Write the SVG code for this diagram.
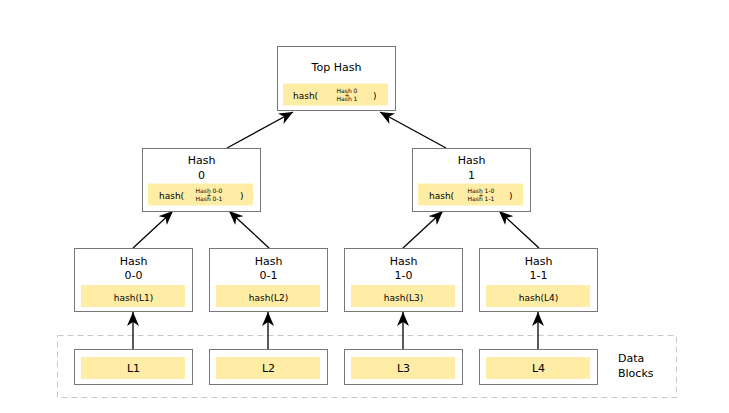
<svg xmlns="http://www.w3.org/2000/svg" width="729" height="413" viewBox="0 0 729 413">
<defs>
<marker id="arr" markerUnits="userSpaceOnUse" markerWidth="14" markerHeight="12" viewBox="0 0 14 12" refX="14" refY="6" orient="auto">
<path d="M0,0 L14,6 L0,12 L4,6 z" fill="#000"/>
</marker>
<style>
.box{fill:#fff;stroke:#777;stroke-width:1}
.hl{fill:#ffeda5}
.t{font-family:"DejaVu Sans",sans-serif;fill:#000}
.big{font-size:11px;text-anchor:middle}
.mid{font-size:9px}
.sm{font-size:6px;text-anchor:middle}
.edge{stroke:#000;stroke-width:1.3;fill:none;marker-end:url(#arr)}
</style>
</defs>
<rect width="729" height="413" fill="#fff"/>
<rect x="57.5" y="335.5" width="619" height="62" fill="none" stroke="#c8c8c8" stroke-width="1" stroke-dasharray="6,4"/>
<g id="connectors">
<line class="edge" x1="227" y1="148" x2="293" y2="112"/>
<line class="edge" x1="446" y1="148" x2="380" y2="112"/>
<line class="edge" x1="133" y1="248" x2="173" y2="211"/>
<line class="edge" x1="269" y1="248" x2="229" y2="211"/>
<line class="edge" x1="403" y1="248" x2="443" y2="211"/>
<line class="edge" x1="539" y1="248" x2="499" y2="211"/>
<line class="edge" x1="133" y1="349" x2="133" y2="312"/>
<line class="edge" x1="268" y1="349" x2="268" y2="312"/>
<line class="edge" x1="403" y1="349" x2="403" y2="312"/>
<line class="edge" x1="538" y1="349" x2="538" y2="312"/>
</g>
<g id="top-hash">
<rect class="box" x="277.5" y="46.5" width="118" height="64"/>
<rect class="hl" x="283" y="83.5" width="105" height="22"/>
<text class="t big" x="336.5" y="71">Top Hash</text>
<text class="t mid" x="293" y="99">hash(</text>
<text class="t sm" x="347" y="92.5">Hash 0</text>
<text class="t sm" x="347" y="97">+</text>
<text class="t sm" x="347" y="101">Hash 1</text>
<text class="t mid" x="373" y="99">)</text>
</g>
<g id="hash-0">
<rect class="box" x="142.5" y="148.5" width="118" height="63"/>
<rect class="hl" x="148" y="183.5" width="105" height="22"/>
<text class="t big" x="201.5" y="164">Hash</text>
<text class="t big" x="201.5" y="179">0</text>
<text class="t mid" x="159" y="199">hash(</text>
<text class="t sm" x="209" y="192.5">Hash 0-0</text>
<text class="t sm" x="209" y="197">+</text>
<text class="t sm" x="209" y="201">Hash 0-1</text>
<text class="t mid" x="240" y="199">)</text>
</g>
<g id="hash-1">
<rect class="box" x="412.5" y="148.5" width="118" height="63"/>
<rect class="hl" x="418" y="183.5" width="105" height="22"/>
<text class="t big" x="471.5" y="164">Hash</text>
<text class="t big" x="471.5" y="179">1</text>
<text class="t mid" x="429" y="199">hash(</text>
<text class="t sm" x="481" y="192.5">Hash 1-0</text>
<text class="t sm" x="481" y="197">+</text>
<text class="t sm" x="481" y="201">Hash 1-1</text>
<text class="t mid" x="509" y="199">)</text>
</g>
<g id="hash-0-0">
<rect class="box" x="74.5" y="248.5" width="118" height="63"/>
<rect class="hl" x="81" y="285" width="104" height="22"/>
<text class="t big" x="133.5" y="265">Hash</text>
<text class="t big" x="133.5" y="279">0-0</text>
<text class="t mid" x="133.5" y="300.5" text-anchor="middle">hash(L1)</text>
</g>
<g id="hash-0-1">
<rect class="box" x="209.5" y="248.5" width="118" height="63"/>
<rect class="hl" x="216" y="285" width="104" height="22"/>
<text class="t big" x="268.5" y="265">Hash</text>
<text class="t big" x="268.5" y="279">0-1</text>
<text class="t mid" x="268.5" y="300.5" text-anchor="middle">hash(L2)</text>
</g>
<g id="hash-1-0">
<rect class="box" x="344.5" y="248.5" width="118" height="63"/>
<rect class="hl" x="351" y="285" width="104" height="22"/>
<text class="t big" x="403.5" y="265">Hash</text>
<text class="t big" x="403.5" y="279">1-0</text>
<text class="t mid" x="403.5" y="300.5" text-anchor="middle">hash(L3)</text>
</g>
<g id="hash-1-1">
<rect class="box" x="479.5" y="248.5" width="118" height="63"/>
<rect class="hl" x="486" y="285" width="104" height="22"/>
<text class="t big" x="538.5" y="265">Hash</text>
<text class="t big" x="538.5" y="279">1-1</text>
<text class="t mid" x="538.5" y="300.5" text-anchor="middle">hash(L4)</text>
</g>
<g id="L1">
<rect class="box" x="74.5" y="349.5" width="118" height="35"/>
<rect class="hl" x="81" y="357" width="104" height="22"/>
<text class="t big" x="133.5" y="372">L1</text>
</g>
<g id="L2">
<rect class="box" x="209.5" y="349.5" width="118" height="35"/>
<rect class="hl" x="216" y="357" width="104" height="22"/>
<text class="t big" x="268.5" y="372">L2</text>
</g>
<g id="L3">
<rect class="box" x="344.5" y="349.5" width="118" height="35"/>
<rect class="hl" x="351" y="357" width="104" height="22"/>
<text class="t big" x="403.5" y="372">L3</text>
</g>
<g id="L4">
<rect class="box" x="479.5" y="349.5" width="118" height="35"/>
<rect class="hl" x="486" y="357" width="104" height="22"/>
<text class="t big" x="538.5" y="372">L4</text>
</g>
<g id="data-blocks-label">
<text class="t" font-size="11" x="618" y="362">Data</text>
<text class="t" font-size="11" x="618" y="377">Blocks</text>
</g>
</svg>
